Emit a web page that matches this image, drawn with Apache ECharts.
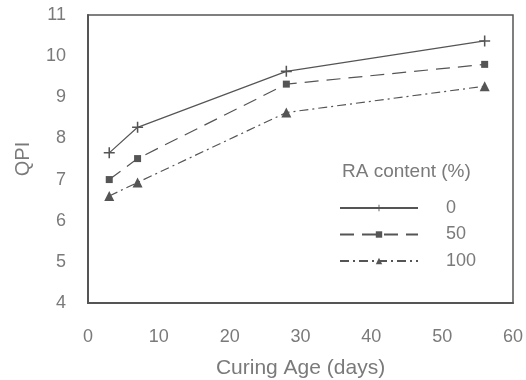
<!DOCTYPE html>
<html>
<head>
<meta charset="utf-8">
<script src="https://cdn.jsdelivr.net/npm/echarts@6/dist/echarts.min.js"></script>
<style>
  html, body { margin: 0; padding: 0; background: #fff; }
  #chart { width: 526px; height: 380px; }
</style>
</head>
<body>
<div id="chart"></div>
<script>
// Curing age (days) and QPI for each recycled-aggregate content
const days = [3, 7, 28, 56];
const ra0 = [7.65, 8.27, 9.63, 10.37];
const ra50 = [7.0, 7.51, 9.32, 9.80];
const ra100 = [6.6, 6.93, 8.63, 9.27];
const seriesNames = ['0', '50', '100'];

const ink = '#555';
const textInk = '#7a7a7a';
const font = 'Liberation Sans';
const plus = 'path://M4.3,0H5.7V4.3H10V5.7H5.7V10H4.3V5.7H0V4.3H4.3Z';

const pairs = vals => days.map((d, i) => [d, vals[i]]);

const chart = echarts.init(document.getElementById('chart'));
chart.setOption({
  animation: false,
  textStyle: { fontFamily: font },
  grid: {
    left: 88, right: 13, top: 15, bottom: 77,
    outerBoundsMode: 'none',
    show: true, borderColor: ink, borderWidth: 1.5
  },
  title: {
    text: 'RA content (%)',
    left: 337, top: 157,
    textStyle: { fontFamily: font, fontSize: 19, fontWeight: 'normal', color: textInk }
  },
  legend: {
    orient: 'vertical',
    left: 334, top: 194,
    itemWidth: 78, itemHeight: 8, itemGap: 8.5,
    data: seriesNames,
    textStyle: { fontFamily: font, fontSize: 18, color: textInk, padding: [0, 0, 0, 23] }
  },
  xAxis: {
    type: 'value', min: 0, max: 60, interval: 10,
    name: 'Curing Age (days)', nameLocation: 'middle', nameGap: 55,
    nameTextStyle: { fontFamily: font, fontSize: 21, color: textInk },
    axisLine: { show: true, lineStyle: { color: ink, width: 2 } },
    axisTick: { show: false },
    splitLine: { show: false },
    axisLabel: { margin: 25, fontFamily: font, fontSize: 18, color: textInk }
  },
  yAxis: {
    type: 'value', min: 4, max: 11, interval: 1,
    name: 'QPI', nameLocation: 'middle', nameGap: 55, nameRotate: 90,
    nameTextStyle: { fontFamily: font, fontSize: 20, color: textInk },
    axisLine: { show: true, lineStyle: { color: ink, width: 2 } },
    axisTick: { show: false },
    splitLine: { show: false },
    axisLabel: { margin: 22, fontFamily: font, fontSize: 18, color: textInk }
  },
  series: [
    {
      name: seriesNames[0], type: 'line', data: pairs(ra0),
      symbol: plus, symbolSize: 11,
      lineStyle: { color: ink, width: 1.2, type: 'solid' },
      itemStyle: { color: ink }
    },
    {
      name: seriesNames[1], type: 'line', data: pairs(ra50),
      symbol: 'rect', symbolSize: 7,
      lineStyle: { color: ink, width: 1.2, type: [14, 8] },
      itemStyle: { color: ink }
    },
    {
      name: seriesNames[2], type: 'line', data: pairs(ra100),
      symbol: 'triangle', symbolSize: 10,
      lineStyle: { color: ink, width: 1.2, type: [9, 4, 2, 4] },
      itemStyle: { color: ink }
    }
  ]
});
</script>
</body>
</html>
